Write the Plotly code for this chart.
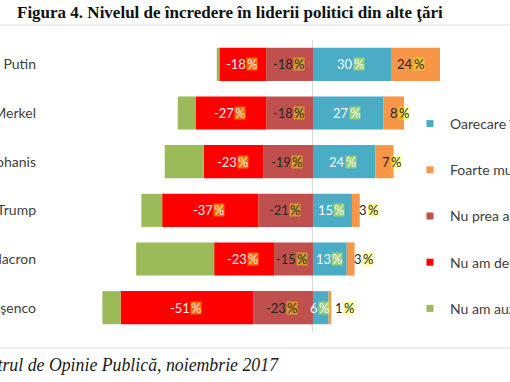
import plotly.graph_objects as go

leaders = ["Putin", "Merkel", "Iohanis", "Trump", "Macron", "Poroşenco"]
nu_prea = [-18, -18, -19, -21, -15, -23]        # Nu prea am încredere
nu_deloc = [-18, -27, -23, -37, -23, -51]       # Nu am deloc încredere
nu_auzit = [-1, -7, -15, -8, -30, -7]           # Nu am auzit de el
oarecare = [30, 27, 24, 15, 13, 6]              # Oarecare încredere
foarte = [24, 8, 7, 3, 3, 1]                    # Foarte multă încredere

legend_names = ["Oarecare încredere", "Foarte multă încredere", "Nu prea am încredere",
                "Nu am deloc încredere", "Nu am auzit de el"]
C_BLUE, C_ORANGE, C_DRED, C_RED, C_GREEN = "#4BACC6", "#F79646", "#C0504D", "#FF0000", "#9BBB59"

title = "Figura 4. Nivelul de încredere în liderii politici din alte ţări"
source = "Sursa: Barometrul de Opinie Publică, noiembrie 2017"

W, H = 510, 382
ML, MR, MT, MB = 41, 70, 40, 50
PW = W - ML - MR
PH = H - MT - MB

fig = go.Figure()
for vals, col in [(nu_prea, C_DRED), (nu_deloc, C_RED), (nu_auzit, C_GREEN),
                  (oarecare, C_BLUE), (foarte, C_ORANGE)]:
    fig.add_trace(go.Bar(y=leaders, x=vals, orientation="h", marker=dict(color=col, line=dict(width=0)),
                         showlegend=False, hoverinfo="x+y"))

# legend entries
for name, col in zip(legend_names, [C_BLUE, C_ORANGE, C_DRED, C_RED, C_GREEN]):
    fig.add_trace(go.Scatter(x=[None], y=[None], mode="markers", name=name, legendgroup=name,
                             marker=dict(symbol="square", size=7, color=col)))

FONT = "Lato"
def wnum(s):
    return sum(4.3 if c == "-" else 6.8 for c in s)
WP = 10.0
HL = "rgba(255,255,0,0.42)"

def label(xc, y, num, color, mode="center", shift=0):
    s = f"{num}"
    wn = wnum(s)
    if mode == "center":
        off = (wn - WP) / 2
    else:
        off = shift + wn
    fig.add_annotation(x=xc, y=y, text=s, showarrow=False, xanchor="right", xshift=off,
                       borderpad=0, font=dict(family=FONT, size=13, color=color))
    fig.add_annotation(x=xc, y=y, text="%", showarrow=False, xanchor="left", xshift=off - 1,
                       borderpad=0, height=12, bgcolor=HL, font=dict(family=FONT, size=13, color=color))

for i, name in enumerate(leaders):
    a = nu_prea[i]
    b = nu_deloc[i]
    label(a / 2, name, a, "#262626")
    label(a + b / 2, name, b, "#FFEFEF")
    label(oarecare[i] / 2, name, oarecare[i], "#F4FAFC")
    label(oarecare[i], name, foarte[i], "#262626", mode="start", shift=9)

# frame lines
for ypx in [25, 348]:
    yp = (H - MB - ypx) / PH
    fig.add_shape(type="line", xref="paper", yref="paper", x0=-ML / PW, x1=(W - ML) / PW,
                  y0=yp, y1=yp, line=dict(color="#DCDCDC", width=1))

fig.add_annotation(xref="paper", yref="paper", x=(281 - ML) / PW, y=(H - MB - 365) / PH,
                   text=source, showarrow=False, xanchor="right", yanchor="middle",
                   font=dict(family="Liberation Serif", size=17.8, style="italic", color="#1a1a1a"))

fig.update_layout(
    width=W, height=H,
    margin=dict(l=ML, r=MR, t=MT, b=MB, autoexpand=False),
    paper_bgcolor="white", plot_bgcolor="white",
    barmode="relative", bargap=0.32,
    title=dict(text="<b>" + title + "</b>", x=17 / W, xref="container", xanchor="left",
               y=1 - 12 / H, yref="container", yanchor="middle",
               font=dict(family="Liberation Serif", size=17, color="#111111")),
    xaxis=dict(range=[-104.6, 48.85], showgrid=False, zeroline=True, zerolinecolor="#D9D9D9",
               zerolinewidth=1, showticklabels=False, ticks="", showline=False, fixedrange=True),
    yaxis=dict(autorange="reversed", showgrid=False, zeroline=False, ticks="", showline=False,
               tickfont=dict(family=FONT, size=14, color="#404040"), automargin=False,
               ticklabelstandoff=4, fixedrange=True),
    legend=dict(x=(410 - ML) / PW, xanchor="left", y=(H - MB - 108) / PH, yanchor="top",
                bgcolor="rgba(0,0,0,0)", tracegroupgap=25, traceorder="grouped",
                font=dict(family=FONT, size=14, color="#404040"), itemsizing="trace"),
    showlegend=True,
)

fig.write_html("out.html", config={"displayModeBar": False},
               post_script="document.body.style.margin='0px';document.body.style.overflow='hidden';")
